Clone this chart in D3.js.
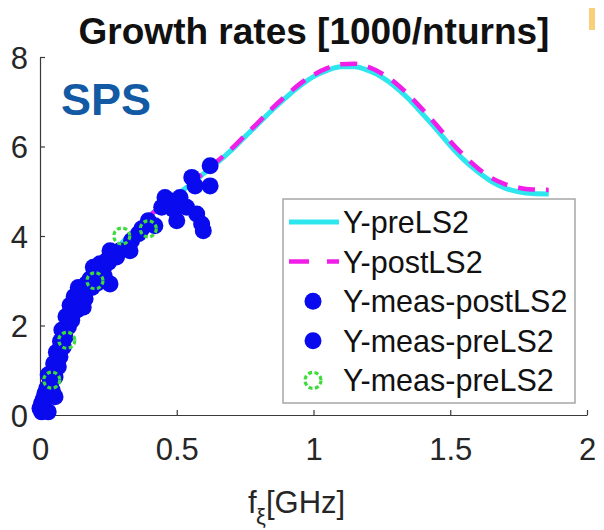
<!DOCTYPE html>
<html>
<head>
<meta charset="utf-8">
<script src="https://cdn.jsdelivr.net/npm/d3@7"></script>
<style>
  html, body { margin: 0; padding: 0; background: #fff; }
  svg { display: block; font-family: "Liberation Sans", Arial, sans-serif; }
</style>
</head>
<body>
<svg id="chart" width="604" height="530"></svg>
<script>
// Model curves: growth rate vs chromatic frequency
const fGrid = [0, 0.05, 0.1, 0.15, 0.2, 0.25, 0.3, 0.35, 0.4, 0.45, 0.5, 0.55, 0.6, 0.65, 0.7, 0.75,
  0.8, 0.85, 0.9, 0.95, 1.0, 1.05, 1.1, 1.15, 1.2, 1.25, 1.3, 1.35, 1.4, 1.45, 1.5, 1.55, 1.6,
  1.65, 1.7, 1.75, 1.8, 1.86];
const yPreLS2 = [0, 0.9, 1.7, 2.4, 3.0, 3.45, 3.85, 4.15, 4.45, 4.7, 4.92, 5.15, 5.4, 5.65, 5.92,
  6.22, 6.52, 6.82, 7.1, 7.35, 7.56, 7.7, 7.78, 7.78, 7.7, 7.55, 7.33, 7.05, 6.72, 6.38, 6.02,
  5.7, 5.44, 5.22, 5.07, 4.99, 4.95, 4.94];
const yPostLS2 = [0, 0.9, 1.7, 2.4, 3.0, 3.45, 3.85, 4.15, 4.45, 4.7, 4.93, 5.17, 5.42, 5.68, 5.95,
  6.25, 6.55, 6.86, 7.14, 7.4, 7.6, 7.75, 7.84, 7.85, 7.78, 7.63, 7.42, 7.14, 6.82, 6.48, 6.12,
  5.8, 5.52, 5.3, 5.16, 5.08, 5.04, 5.03];

// Measurements [f (GHz), growth rate]
const measPostLS2 = [[0.006, 0.07], [0.03, 0.07], [0.006, 0.26], [0.018, 0.48], [0.055, 0.41],
  [0.037, 0.71], [0.055, 0.85], [0.067, 1.08], [0.073, 1.3], [0.085, 1.52], [0.091, 1.74],
  [0.104, 1.97], [0.116, 2.12], [0.134, 2.34], [0.146, 2.56], [0.158, 2.71], [0.158, 2.41],
  [0.17, 2.93], [0.183, 3.04], [0.207, 3.08], [0.195, 3.3], [0.219, 3.23], [0.23, 3.23],
  [0.219, 3.38], [0.244, 3.45], [0.25, 3.41], [0.256, 2.93], [0.268, 3.53], [0.28, 3.53],
  [0.256, 3.67], [0.292, 3.67]];
const measPreLS2 = [[0.0, 0.15], [0.012, 0.35], [0.025, 0.6], [0.045, 0.55], [0.03, 0.9],
  [0.05, 1.15], [0.06, 1.4], [0.075, 1.65], [0.08, 1.9], [0.095, 2.2], [0.11, 2.45],
  [0.125, 2.65], [0.14, 2.85], [0.165, 2.6], [0.19, 2.85], [0.21, 2.95], [0.235, 3.1],
  [0.329, 3.67], [0.335, 3.9], [0.36, 4.05], [0.372, 4.16], [0.396, 4.34], [0.42, 4.23],
  [0.445, 4.64], [0.457, 4.86], [0.475, 4.79], [0.487, 4.6], [0.5, 4.34], [0.512, 4.86],
  [0.536, 4.64], [0.555, 5.31], [0.567, 5.12], [0.573, 4.49], [0.591, 4.27], [0.597, 4.12],
  [0.622, 5.57], [0.622, 5.12]];
const measPreLS2Green = [[0.043, 0.78], [0.098, 1.67], [0.201, 3.0], [0.299, 4.0], [0.396, 4.16]];

const xTicks = [0, 0.5, 1, 1.5, 2];
const xTickLabels = ["0", "0.5", "1", "1.5", "2"];
const yTicks = [0, 2, 4, 6, 8];
const legendLabels = ["Y-preLS2", "Y-postLS2", "Y-meas-postLS2", "Y-meas-preLS2", "Y-meas-preLS2"];

const C_CYAN = "#2de6ee", C_MAG = "#f01ee8", C_BLUE = "#0a0aee", C_GREEN = "#3ddc3a";

const svg = d3.select("#chart");
const x = d3.scaleLinear().domain([0, 2]).range([40, 587]);
const y = d3.scaleLinear().domain([0, 8]).range([415, 57]);

// Small yellow tab at the top-right corner
svg.append("rect").attr("x", 589).attr("y", 8).attr("width", 6).attr("height", 22)
  .attr("fill", "#f8d07a");

// Title
svg.append("text").attr("x", 314).attr("y", 44).attr("text-anchor", "middle")
  .attr("font-weight", "bold").attr("font-size", 37).attr("fill", "#111")
  .text("Growth rates [1000/nturns]");

// Axes (ticks inward, box off)
const axisColor = "#3a3a3a";
const gx = svg.append("g").attr("transform", `translate(0,${y(0)})`)
  .call(d3.axisBottom(x).tickValues(xTicks).tickSizeInner(-5).tickSizeOuter(0)
    .tickFormat((d, i) => xTickLabels[i]));
const gy = svg.append("g").attr("transform", `translate(${x(0)},0)`)
  .call(d3.axisLeft(y).tickValues(yTicks).tickSizeInner(-5).tickSizeOuter(0));
[gx, gy].forEach(g => {
  g.select(".domain").attr("stroke", axisColor).attr("stroke-width", 1.2);
  g.selectAll(".tick line").attr("stroke", axisColor).attr("stroke-width", 1.2);
  g.selectAll(".tick text").attr("fill", "#262626").attr("font-size", 31)
    .attr("font-family", "Liberation Sans, Arial, sans-serif");
});
gx.selectAll(".tick text").attr("y", 23).attr("dy", "0.71em");
gy.selectAll(".tick text").attr("x", -12).attr("dy", "0.36em");

// X-axis label with subscript
svg.append("text").attr("x", 248).attr("y", 513).attr("font-size", 31).attr("fill", "#262626")
  .text("f");
svg.append("text").attr("x", 256).attr("y", 524).attr("font-size", 22).attr("fill", "#262626")
  .text("ξ");
svg.append("text").attr("x", 266).attr("y", 513).attr("font-size", 31).attr("fill", "#262626")
  .text("[GHz]");

// SPS tag
svg.append("text").attr("x", 61).attr("y", 115).attr("font-weight", "bold")
  .attr("font-size", 45).attr("fill", "#135aa5").text("SPS");

// Model curves
const line = d3.line().x((d, i) => x(fGrid[i])).y(d => y(d)).curve(d3.curveMonotoneX);
svg.append("path").datum(yPreLS2).attr("d", line).attr("fill", "none")
  .attr("stroke", C_CYAN).attr("stroke-width", 5);
svg.append("path").datum(yPostLS2).attr("d", line).attr("fill", "none")
  .attr("stroke", C_MAG).attr("stroke-width", 4.5).attr("stroke-dasharray", "17,11");

// Measured points
const R = 8.5;
svg.append("g").selectAll("circle").data(measPostLS2).join("circle")
  .attr("cx", d => x(d[0])).attr("cy", d => y(d[1])).attr("r", R).attr("fill", C_BLUE);
svg.append("g").selectAll("circle").data(measPreLS2).join("circle")
  .attr("cx", d => x(d[0])).attr("cy", d => y(d[1])).attr("r", R).attr("fill", C_BLUE);
svg.append("g").selectAll("circle").data(measPreLS2Green).join("circle")
  .attr("cx", d => x(d[0])).attr("cy", d => y(d[1])).attr("r", 8).attr("fill", "none")
  .attr("stroke", C_GREEN).attr("stroke-width", 3.2).attr("stroke-dasharray", "4,2.5");

// Legend
const lg = svg.append("g");
lg.append("rect").attr("x", 283).attr("y", 199).attr("width", 292).attr("height", 204)
  .attr("fill", "#fff").attr("stroke", "#a6a6a6").attr("stroke-width", 1.5);
const rowY = i => 222 + i * 39.6;
lg.append("line").attr("x1", 289).attr("x2", 339).attr("y1", rowY(0)).attr("y2", rowY(0))
  .attr("stroke", C_CYAN).attr("stroke-width", 5);
lg.append("line").attr("x1", 289).attr("x2", 339).attr("y1", rowY(1)).attr("y2", rowY(1))
  .attr("stroke", C_MAG).attr("stroke-width", 4.5).attr("stroke-dasharray", "20,18");
lg.append("circle").attr("cx", 313).attr("cy", rowY(2)).attr("r", R).attr("fill", C_BLUE);
lg.append("circle").attr("cx", 313).attr("cy", rowY(3)).attr("r", R).attr("fill", C_BLUE);
lg.append("circle").attr("cx", 313).attr("cy", rowY(4)).attr("r", 8).attr("fill", "none")
  .attr("stroke", C_GREEN).attr("stroke-width", 3.2).attr("stroke-dasharray", "4,2.5");
legendLabels.forEach((t, i) => {
  lg.append("text").attr("x", 343).attr("y", rowY(i)).attr("dy", "0.36em")
    .attr("font-size", 30.5).attr("fill", "#111").text(t);
});
</script>
</body>
</html>
